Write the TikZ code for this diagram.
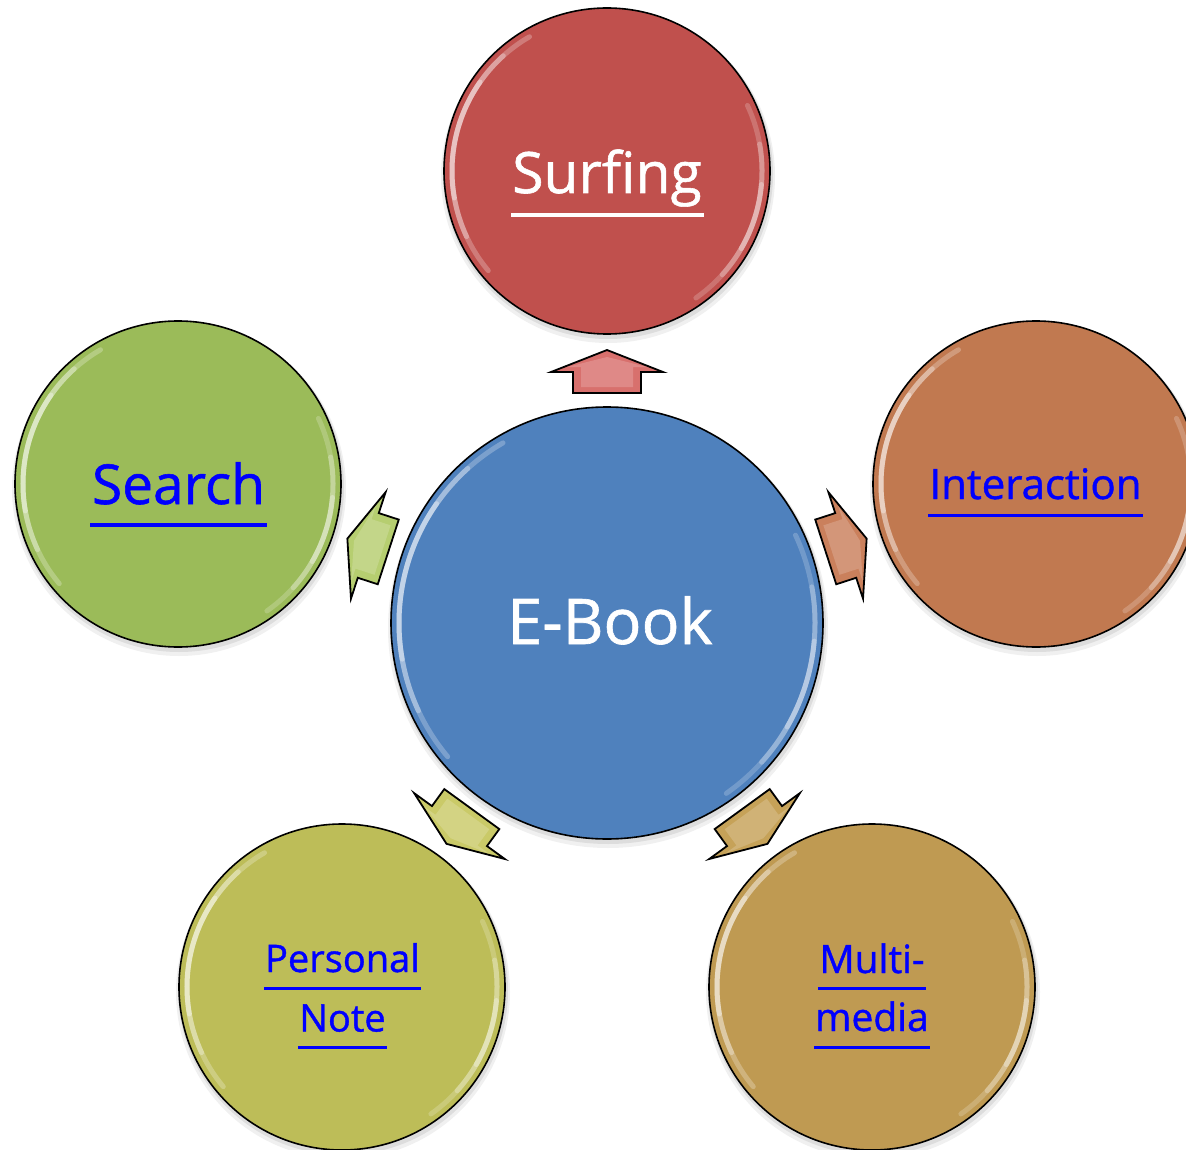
\documentclass[tikz,border=0pt]{standalone}
\usepackage{fontspec}
\setmainfont{Open Sans}[BoldFont={Open Sans}, BoldFeatures={FakeBold=1.0}]
\usetikzlibrary{calc}
\definecolor{cblue}{RGB}{79,129,189}
\definecolor{cred}{RGB}{192,80,77}
\definecolor{cgreen}{RGB}{155,187,89}
\definecolor{corange}{RGB}{193,121,80}
\definecolor{colive}{RGB}{189,189,88}
\definecolor{ctan}{RGB}{191,154,82}
\definecolor{ared}{RGB}{216,112,109}
\definecolor{agreen}{RGB}{182,206,112}
\definecolor{aorange}{RGB}{202,128,92}
\definecolor{aolive}{RGB}{202,202,104}
\definecolor{atan}{RGB}{198,162,88}
\definecolor{linkblue}{RGB}{0,0,255}
\tikzset{
  bubble/.style={circle, draw=black, line width=1.6pt, inner sep=0pt, minimum size=#1},
  lbl/.style={anchor=base, inner sep=0pt, outer sep=0pt},
  uline/.style={line width=#1},
  blockarr/.style={draw=black, line width=1.8pt, line join=miter}
}
\newcommand\shadowdisc[3]{%
  \fill[black, opacity=0.06] (#1+1,#2+5) circle (#3+4);
  \fill[black, opacity=0.08] (#1+1,#2+3) circle (#3+2);
}
\newcommand\gloss[3]{%
  \foreach \a/\b/\o in {140/240/0.25, 155/228/0.3, 170/215/0.35}{%
    \draw[white, line width=5pt, opacity=\o, line cap=round]
      ($(#1,#2)+(\a:#3-8)$) arc[start angle=\a, end angle=\b, radius=#3-8];
  }%
  \foreach \a/\b/\o in {-25/55/0.2, -10/42/0.25, 5/30/0.3}{%
    \draw[white, line width=5pt, opacity=\o, line cap=round]
      ($(#1,#2)+(\a:#3-8)$) arc[start angle=\a, end angle=\b, radius=#3-8];
  }%
}
\newcommand\blockarrow[2]{%
  \draw[blockarr, fill=#2, shift={(607,623)}, rotate=#1]
    (230,-34) -- (251,-34) -- (251,-56) -- (273,0) -- (251,56) -- (251,34) -- (230,34) -- cycle;
  \fill[white, opacity=0.18, shift={(607,623)}, rotate=#1]
    (236,-26) -- (256,-26) -- (256,-40) -- (266,0) -- (256,40) -- (256,26) -- (236,26) -- cycle;
}
\begin{document}
\begin{tikzpicture}[x=1pt,y=-1pt]
\useasboundingbox (0,0) rectangle (1186,1150);
\clip (0,0) rectangle (1186,1150);
\fill[white] (0,0) rectangle (1186,1150);

% shadows
\shadowdisc{607}{171}{163}
\shadowdisc{178}{484}{163}
\shadowdisc{1036}{484}{163}
\shadowdisc{342}{987}{163}
\shadowdisc{872}{987}{163}
\shadowdisc{607}{623}{216}

% circles
\node[bubble=326pt, fill=cred]    (surf)  at (607,171) {};
\node[bubble=326pt, fill=cgreen]  (srch)  at (178,484) {};
\node[bubble=326pt, fill=corange] (inter) at (1036,484) {};
\node[bubble=326pt, fill=colive]  (pnote) at (342,987) {};
\node[bubble=326pt, fill=ctan]    (multi) at (872,987) {};
\node[bubble=432pt, fill=cblue]   (ebook) at (607,623) {};

\gloss{607}{171}{163}
\gloss{178}{484}{163}
\gloss{1036}{484}{163}
\gloss{342}{987}{163}
\gloss{872}{987}{163}
\gloss{607}{623}{216}

% block arrows
\blockarrow{90}{ared}
\blockarrow{162}{agreen}
\blockarrow{18}{aorange}
\blockarrow{234}{aolive}
\blockarrow{306}{atan}

% texts
\node[lbl, text=white, font=\bfseries\fontsize{63}{66}\selectfont] (tebook) at (610,644) {E-Book};

\node[lbl, text=white, font=\bfseries\fontsize{57}{60}\selectfont] (tsurf) at (607,193) {Surfing};
\draw[white, uline=3.5pt] ($(tsurf.base west)+(-1,22)$) -- ($(tsurf.base east)+(2,22)$);

\node[lbl, text=linkblue, font=\bfseries\fontsize{55}{58}\selectfont] (tsrch) at (178.5,504) {Search};
\draw[linkblue, uline=4pt] ($(tsrch.base west)+(-2,21)$) -- ($(tsrch.base east)+(2,21)$);

\node[lbl, text=linkblue, font=\bfseries\fontsize{42}{44}\selectfont] (tinter) at (1035.5,499) {Interaction};
\draw[linkblue, uline=3pt] ($(tinter.base west)+(-1,16)$) -- ($(tinter.base east)+(1,16)$);

\node[lbl, text=linkblue, font=\bfseries\fontsize{38}{40}\selectfont] (tpers) at (342.5,972) {Personal};
\draw[linkblue, uline=3pt] ($(tpers.base west)+(-1,16)$) -- ($(tpers.base east)+(1,16)$);
\node[lbl, text=linkblue, font=\bfseries\fontsize{38}{40}\selectfont] (tnote) at (342.5,1031.5) {Note};
\draw[linkblue, uline=3pt] ($(tnote.base west)+(-1,15.5)$) -- ($(tnote.base east)+(1,15.5)$);

\node[lbl, text=linkblue, font=\bfseries\fontsize{39}{41}\selectfont] (tmulti) at (872,973) {Multi-};
\draw[linkblue, uline=3pt] ($(tmulti.base west)+(-1,15)$) -- ($(tmulti.base east)+(1,15)$);
\node[lbl, text=linkblue, font=\bfseries\fontsize{39}{41}\selectfont] (tmedia) at (872,1031) {media};
\draw[linkblue, uline=3pt] ($(tmedia.base west)+(-1,16)$) -- ($(tmedia.base east)+(1,16)$);
\end{tikzpicture}
\end{document}
